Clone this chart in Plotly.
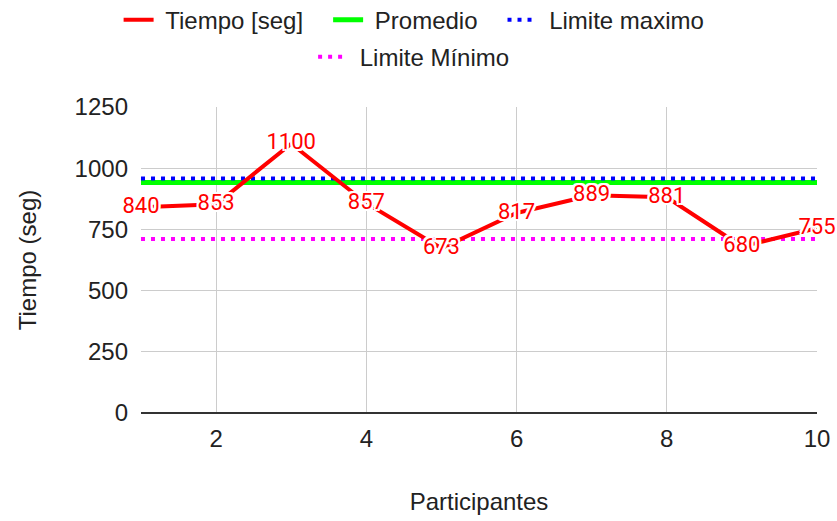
import plotly.graph_objects as go

# Participant timing data
participantes = [1, 2, 3, 4, 5, 6, 7, 8, 9, 10]
tiempo = [840, 853, 1100, 857, 673, 817, 889, 881, 680, 755]
promedio = [942] * len(participantes)
limite_max = [958] * len(participantes)
limite_min = [711] * len(participantes)

y_ticks = [0, 250, 500, 750, 1000, 1250]
x_ticks = [2, 4, 6, 8, 10]

AXFONT = "Liberation Sans, Arial, sans-serif"
LBLFONT = "Roboto, Arial, sans-serif"
TXT = "#222222"
SIZE = 24
NB = "\u00a0"

halo = ", ".join(
    f"{dx}px {dy}px 0 white"
    for dx, dy in [(-2, -2), (2, -2), (-2, 2), (2, 2), (0, 2), (0, -2), (2, 0), (-2, 0)]
)

fig = go.Figure()

fig.add_trace(go.Scatter(
    x=participantes, y=promedio, mode="lines", name=NB + "Promedio" + NB * 3,
    line=dict(color="#00ff00", width=5), legend="legend",
))
fig.add_trace(go.Scatter(
    x=participantes, y=limite_max, mode="lines", name=NB + "Limite maximo",
    line=dict(color="#0000ff", width=4, dash="4px,6px"), legend="legend",
))
fig.add_trace(go.Scatter(
    x=participantes, y=limite_min, mode="lines", name=NB + "Limite Mínimo",
    line=dict(color="#ff00ff", width=4, dash="4px,6px"), legend="legend2",
))
fig.add_trace(go.Scatter(
    x=participantes, y=tiempo, mode="lines+text", name=NB + "Tiempo [seg]" + NB * 3,
    line=dict(color="#ff0000", width=4),
    text=[str(v) for v in tiempo], textposition="middle center",
    textfont=dict(family=LBLFONT, size=22, color="#ff0000", shadow=halo),
    cliponaxis=False, legend="legend", legendrank=1,
))

fig.update_layout(
    width=837, height=521,
    margin=dict(l=141, r=20, t=107, b=108, autoexpand=False),
    paper_bgcolor="white", plot_bgcolor="white",
    font=dict(family=AXFONT, size=SIZE, color=TXT),
    showlegend=True,
    legend=dict(
        orientation="h", x=0.404, xanchor="center", y=1.284, yanchor="middle",
        font=dict(family=AXFONT, size=SIZE, color=TXT), traceorder="normal",
        bgcolor="rgba(0,0,0,0)",
    ),
    legend2=dict(
        orientation="h", x=0.404, xanchor="center", y=1.163, yanchor="middle",
        font=dict(family=AXFONT, size=SIZE, color=TXT),
        bgcolor="rgba(0,0,0,0)",
    ),
    xaxis=dict(
        range=[1, 10], tickvals=x_ticks, ticktext=[str(v) for v in x_ticks],
        showgrid=True, gridcolor="#cccccc", gridwidth=1,
        zeroline=False, showline=False, ticks="",
        tickfont=dict(family=AXFONT, size=SIZE, color=TXT), ticklabelstandoff=9,
        title=dict(text="Participantes", font=dict(family=AXFONT, size=SIZE, color=TXT), standoff=42),
    ),
    yaxis=dict(
        range=[0, 1250], tickvals=y_ticks, ticktext=[str(v) for v in y_ticks],
        showgrid=True, gridcolor="#cccccc", gridwidth=1,
        zeroline=True, zerolinecolor="#333333", zerolinewidth=2,
        showline=False, ticks="",
        tickfont=dict(family=AXFONT, size=SIZE, color=TXT), ticklabelstandoff=12,
        title=dict(text="Tiempo (seg)", font=dict(family=AXFONT, size=SIZE, color=TXT), standoff=31),
    ),
)

fig.write_html("out.html")
